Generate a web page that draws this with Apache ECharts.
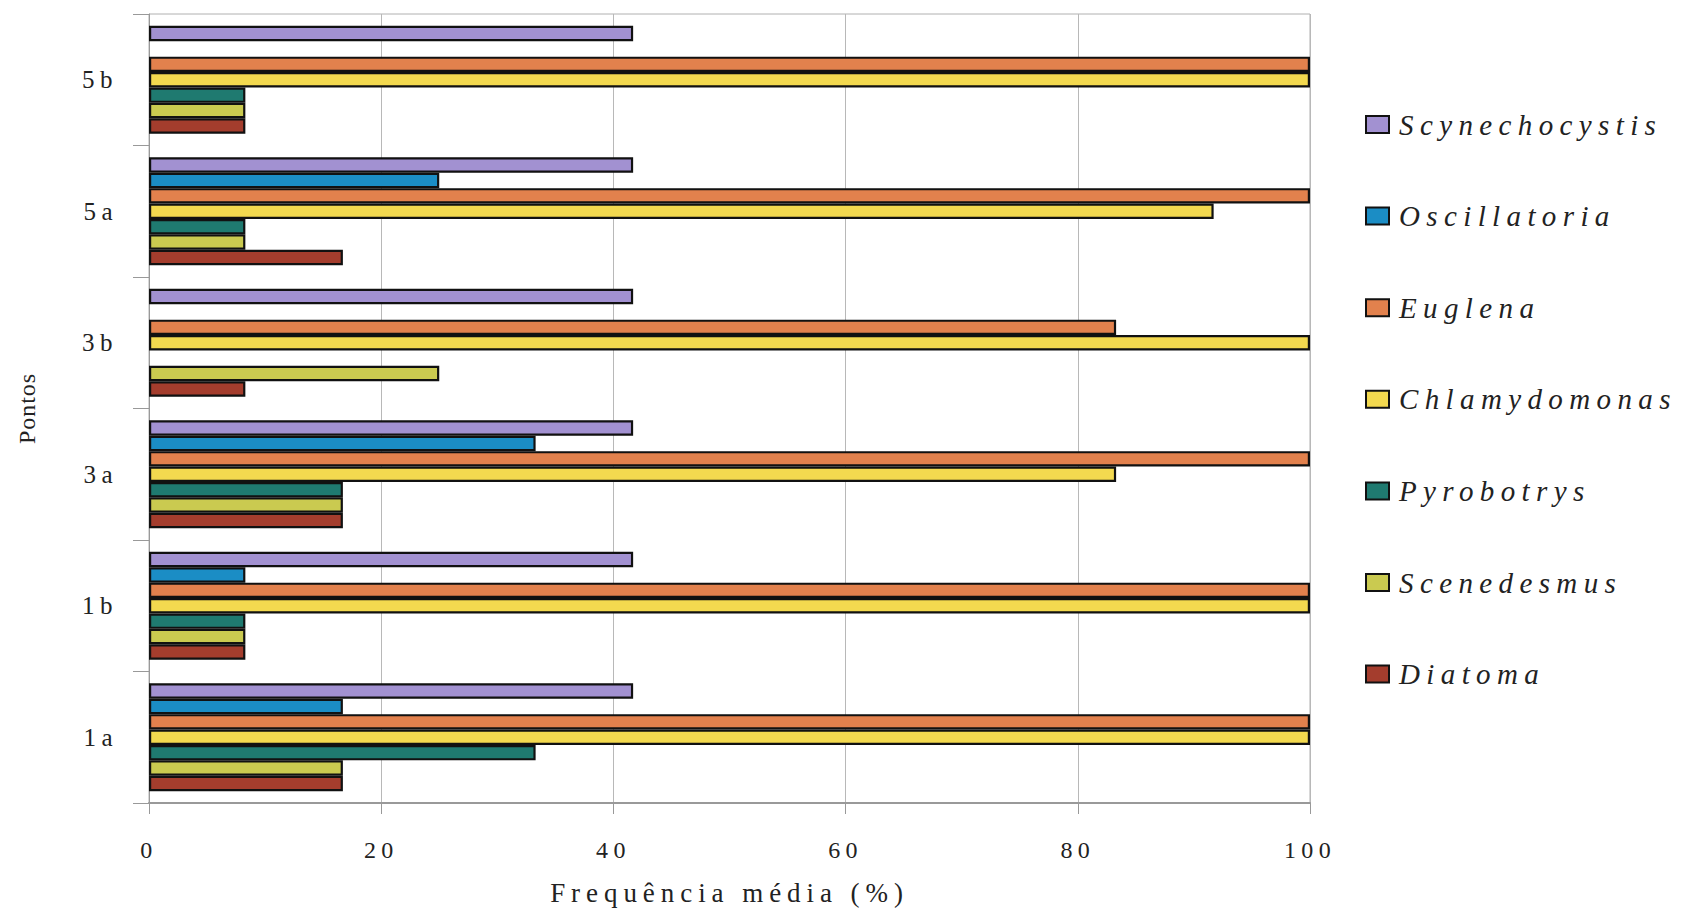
<!DOCTYPE html>
<html>
<head>
<meta charset="utf-8">
<script src="https://cdn.jsdelivr.net/npm/echarts@6/dist/echarts.min.js"></script>
<style>
  html, body { margin: 0; padding: 0; background: #fff; }
  #chart { width: 1686px; height: 912px; }
  #chart svg text { letter-spacing: 0.22em; }
  #chart svg text.plain { letter-spacing: 0.04em; }
</style>
</head>
<body>
<div id="chart"></div>
<script>
// pontos de coleta (de baixo para cima)
var pontos = ["1a", "1b", "3a", "3b", "5a", "5b"];

// frequência média (%) por gênero, na ordem de pontos
var scynechocystis = [41.7, 41.7, 41.7, 41.7, 41.7, 41.7];
var oscillatoria   = [16.7, 8.3, 33.3, 0, 25, 0];
var euglena        = [100, 100, 100, 83.3, 100, 100];
var chlamydomonas  = [100, 100, 83.3, 100, 91.7, 100];
var pyrobotrys     = [33.3, 8.3, 16.7, 0, 8.3, 8.3];
var scenedesmus    = [16.7, 8.3, 16.7, 25, 8.3, 8.3];
var diatoma        = [16.7, 8.3, 16.7, 8.3, 16.7, 8.3];

var xTicks = [0, 20, 40, 60, 80, 100];

var chart = echarts.init(document.getElementById("chart"), null, { renderer: "svg" });

function serie(name, data, color) {
  return {
    name: name,
    type: "bar",
    // zero = sem barra
    data: data.map(function (v) { return v === 0 ? "-" : v; }),
    barGap: "0%",
    barCategoryGap: "18%",
    itemStyle: { color: color, borderColor: "#111", borderWidth: 2.2 }
  };
}

var font = "'Liberation Serif', 'Times New Roman', serif";

var option = {
  backgroundColor: "#fff",
  animation: false,
  grid: {
    left: 149,
    right: 376,
    top: 14,
    bottom: 109,
    show: true,
    borderColor: "#b0b0b0",
    borderWidth: 1
  },
  legend: {
    orient: "vertical",
    left: 1360,
    top: 105,
    itemWidth: 23,
    itemHeight: 17,
    itemGap: 62.6,
    icon: "rect",
    data: ["Scynechocystis", "Oscillatoria", "Euglena", "Chlamydomonas", "Pyrobotrys", "Scenedesmus", "Diatoma"],
    textStyle: {
      fontFamily: font,
      fontStyle: "italic",
      fontSize: 29,
      color: "#222",
      padding: [0, 0, 0, 5]
    }
  },
  xAxis: {
    type: "value",
    min: 0,
    max: 100,
    interval: 20,
    name: "Frequência média (%)",
    nameLocation: "middle",
    nameGap: 76,
    nameTextStyle: { fontFamily: font, fontSize: 27, color: "#222" },
    axisLine: { show: true, lineStyle: { color: "#999", width: 2 } },
    axisTick: { show: true, length: 11, lineStyle: { color: "#999" } },
    axisLabel: {
      margin: 35,
      fontFamily: font,
      fontSize: 24,
      color: "#222",
      formatter: function (v) { return xTicks.indexOf(v) >= 0 ? String(v) : ""; }
    },
    splitLine: { show: true, lineStyle: { color: "#b8b8b8", width: 1 } }
  },
  yAxis: {
    type: "category",
    data: pontos,
    name: "Pontos",
    nameLocation: "middle",
    nameGap: 110,
    nameRotate: 90,
    nameTextStyle: { fontFamily: font, fontSize: 24, color: "#222" },
    axisLine: { show: true, lineStyle: { color: "#999", width: 1 } },
    axisTick: { show: true, length: 16, lineStyle: { color: "#999" } },
    axisLabel: { margin: 31, fontFamily: font, fontSize: 25, color: "#222" }
  },
  series: [
    serie("Scynechocystis", scynechocystis, "#a291d1"),
    serie("Oscillatoria", oscillatoria, "#1b8dc5"),
    serie("Euglena", euglena, "#e2814d"),
    serie("Chlamydomonas", chlamydomonas, "#f3d94f"),
    serie("Pyrobotrys", pyrobotrys, "#1f7a70"),
    serie("Scenedesmus", scenedesmus, "#caca50"),
    serie("Diatoma", diatoma, "#a43d2d")
  ]
};

chart.setOption(option);

// o título do eixo y não tem espaçamento largo
document.querySelectorAll("#chart svg text").forEach(function (t) {
  if (t.textContent === "Pontos") t.classList.add("plain");
});
</script>
</body>
</html>
